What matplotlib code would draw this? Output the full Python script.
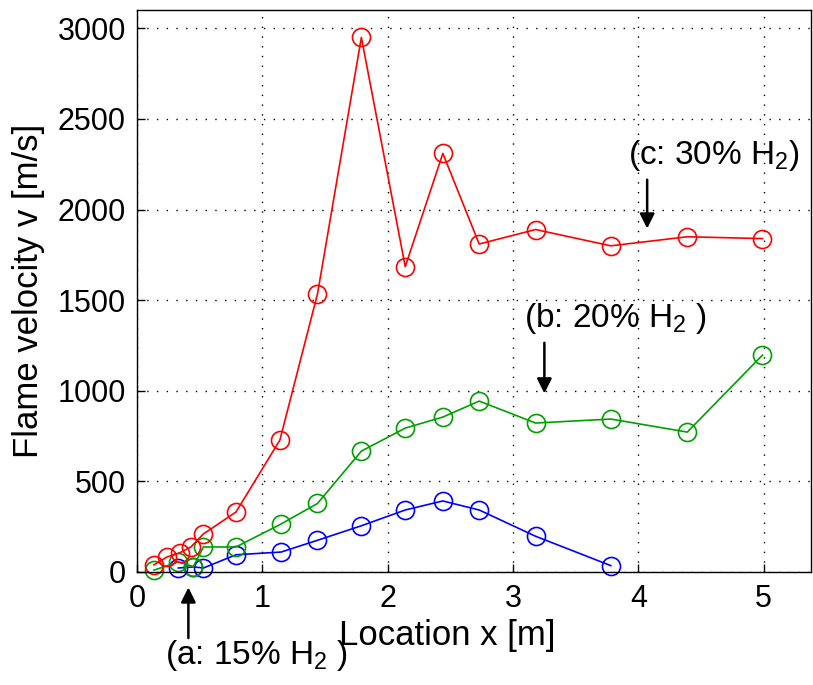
import numpy as np
import matplotlib.pyplot as plt

plt.rcParams['font.family'] = ['Liberation Sans', 'DejaVu Sans']
plt.rcParams['mathtext.default'] = 'regular'

# 30% H2
x_c = [0.135, 0.24, 0.34, 0.43, 0.53, 0.79, 1.14, 1.44, 1.79, 2.14, 2.44, 2.73, 3.18, 3.78, 4.39, 4.99]
v_c = [39, 83, 105, 138, 210, 331, 728, 1535, 2950, 1685, 2310, 1810, 1890, 1800, 1850, 1840]
# 20% H2
x_b = [0.135, 0.33, 0.45, 0.53, 0.79, 1.15, 1.44, 1.79, 2.14, 2.44, 2.73, 3.18, 3.78, 4.39, 4.99]
v_b = [10, 55, 30, 138, 138, 265, 378, 667, 794, 855, 943, 822, 844, 772, 1197]
# 15% H2
x_a = [0.33, 0.45, 0.53, 0.79, 1.15, 1.44, 1.79, 2.14, 2.44, 2.73, 3.18, 3.78]
v_a = [22, 28, 22, 95, 110, 175, 255, 342, 392, 342, 197, 35]

fig = plt.figure(figsize=(8.13, 6.85), dpi=100)
ax = fig.add_axes([0.1685, 0.165, 0.8295, 0.82])

mk = dict(marker='o', markersize=13, markerfacecolor='none', markeredgewidth=1.2, linewidth=1.2, clip_on=False)
ax.plot(x_a, v_a, color='#0000ff', **mk)
ax.plot(x_b, v_b, color='#00a000', **mk)
ax.plot(x_c, v_c, color='#ff0000', **mk)

ax.set_xlim(0, 5.38)
ax.set_ylim(0, 3100)
ax.set_xticks([0, 1, 2, 3, 4, 5])
ax.set_yticks([0, 500, 1000, 1500, 2000, 2500, 3000])
ax.tick_params(direction='in', labelsize=22, length=6, width=1)
ax.tick_params(axis='x', pad=9)
ax.tick_params(axis='y', pad=8)
ax.grid(True, color='black', linestyle=(0, (1, 6)), linewidth=1)
for s in ax.spines.values():
    s.set_linewidth(1)

ax.set_xlabel('Location x [m]', fontsize=25)
ax.xaxis.set_label_coords(0.46, -0.083)
ax.set_ylabel('Flame velocity v [m/s]', fontsize=25)
ax.yaxis.set_label_coords(-0.137, 0.5)

arr = dict(arrowstyle='-|>', color='black', lw=1.8, mutation_scale=22)
ax.annotate('', xy=(4.07, 1880), xytext=(4.07, 2180), arrowprops=arr, annotation_clip=False)
ax.text(3.92, 2300, '(c: 30% H$_2$)', fontsize=24, va='center', ha='left')
ax.annotate('', xy=(3.25, 970), xytext=(3.25, 1280), arrowprops=arr, annotation_clip=False)
ax.text(3.09, 1400, '(b: 20% H$_2$ )', fontsize=24, va='center', ha='left')
ax.annotate('', xy=(0.41, -70), xytext=(0.41, -380), arrowprops=arr, annotation_clip=False)
ax.text(0.225, -460, '(a: 15% H$_2$ )', fontsize=24, va='center', ha='left')

fig.savefig('out.png', dpi=100)
